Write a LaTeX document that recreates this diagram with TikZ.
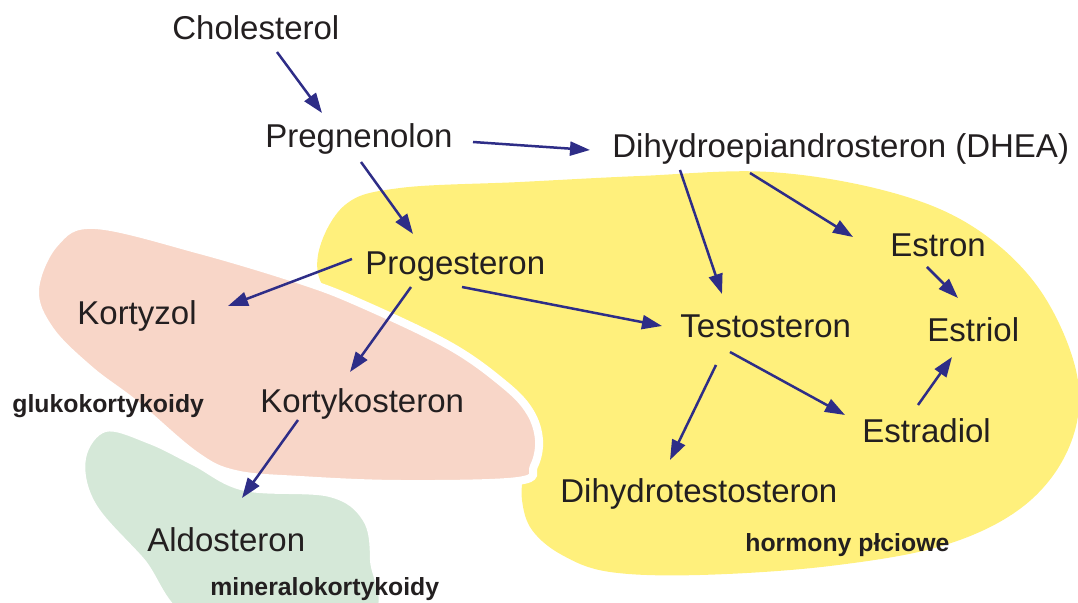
\documentclass[tikz,border=0pt]{standalone}
\usepackage{fontspec}
\setmainfont{Liberation Sans}
\usetikzlibrary{arrows.meta,calc}
\definecolor{cSex} {HTML}{FFF07C}
\definecolor{cGluc}{HTML}{F8D6C8}
\definecolor{cMin} {HTML}{D5E8D8}
\definecolor{cArr} {HTML}{2E2D87}
\definecolor{cTxt} {HTML}{231F20}
\tikzset{
  cmp/.style ={anchor=base west,inner sep=0pt,text=cTxt,
               font=\fontsize{16.5}{19}\selectfont},
  grp/.style ={anchor=base west,inner sep=0pt,text=cTxt,
               font=\fontsize{12.4}{15}\selectfont\bfseries},
  rx/.style  ={-{Triangle[length=10pt,width=7pt]},draw=cArr,line width=1.25pt},
  blob/.style={draw=white,line width=4pt},
}

\begin{document}
\begin{tikzpicture}[x=0.5pt, y=-0.5pt]
\useasboundingbox (0,0) rectangle (1078,603);

% hormone groups, drawn as soft blobs
\begin{scope}
\clip (0,0) rectangle (1078,603);
\fill[cSex] plot[smooth cycle, tension=0.6] coordinates {
  (318,255) (345,205) (400,188) (520,182) (640,176) (770,172) (890,192)
  (975,228) (1040,290) (1077,375) (1070,445) (1025,505) (945,545)
  (830,566) (700,575) (610,572) (562,555) (532,530) (522,500)
  (524,470) (530,445) (505,405) (450,362) (390,330) (330,295)};
\filldraw[blob,fill=cGluc] plot[smooth cycle, tension=0.6] coordinates {
  (35,290) (55,243) (95,225) (200,250) (300,280) (360,303) (450,346)
  (505,385) (530,412) (539,440) (534,466) (518,481) (400,484) (300,480)
  (235,474) (195,455) (135,404) (90,370) (50,330)};
\filldraw[blob,fill=cMin] plot[smooth cycle, tension=0.6] coordinates {
  (105,428) (150,440) (195,462) (245,487) (330,493) (366,518)
  (374,560) (368,620) (200,625) (140,560) (92,505) (82,458)};
\end{scope}

% compounds
\node[cmp] (chol)    at (172,40)  {Cholesterol};
\node[cmp] (preg)    at (265,148) {Pregnenolon};
\node[cmp] (dhea)    at (612,158) {Dihydroepiandrosteron (DHEA)};
\node[cmp] (prog)    at (365,275) {Progesteron};
\node[cmp] (kort)    at (77,325)  {Kortyzol};
\node[cmp] (kkst)    at (260,413) {Kortykosteron};
\node[cmp] (aldo)    at (147,552) {Aldosteron};
\node[cmp] (test)    at (680,338) {Testosteron};
\node[cmp] (estron)  at (890,257) {Estron};
\node[cmp] (estriol) at (927,342) {Estriol};
\node[cmp] (estrad)  at (862,443) {Estradiol};
\node[cmp] (dht)     at (560,503) {Dihydrotestosteron};

% group labels
\node[grp] (gluko) at (12,413)  {glukokortykoidy};
\node[grp] (miner) at (210,596) {mineralokortykoidy};
\node[grp] (horm)  at (745,552) {hormony płciowe};

% pathways
\draw[rx] ($(chol.base west)+(105,12)$)   -- ($(preg.base west)+(57,-35)$);
\draw[rx] ($(preg.base west)+(208,-6)$)   -- ($(dhea.base west)+(-22,-8)$);
\draw[rx] ($(preg.base west)+(96,14)$)    -- ($(prog.base west)+(48,-41)$);
\draw[rx] ($(prog.base west)+(-13,-16)$)  -- ($(kort.base west)+(151,-19)$);
\draw[rx] ($(prog.base west)+(46,12)$)    -- ($(kkst.base west)+(90,-41)$);
\draw[rx] ($(kkst.base west)+(38,7)$)     -- ($(aldo.base west)+(95,-54)$);
\draw[rx] ($(prog.base west)+(97,12)$)    -- ($(test.base west)+(-18,-12)$);
\draw[rx] ($(dhea.base west)+(68,12)$)    -- ($(test.base west)+(42,-44)$);
\draw[rx] ($(dhea.base west)+(138,15)$)   -- ($(estron.base west)+(-37,-20)$);
\draw[rx] ($(estron.base west)+(37,10)$)  -- ($(estriol.base west)+(31,-44)$);
\draw[rx] ($(test.base west)+(36,27)$)    -- ($(dht.base west)+(110,-43)$);
\draw[rx] ($(test.base west)+(50,14)$)    -- ($(estrad.base west)+(-17,-28)$);
\draw[rx] ($(estrad.base west)+(56,-38)$) -- ($(estriol.base west)+(25,15)$);
\end{tikzpicture}
\end{document}
